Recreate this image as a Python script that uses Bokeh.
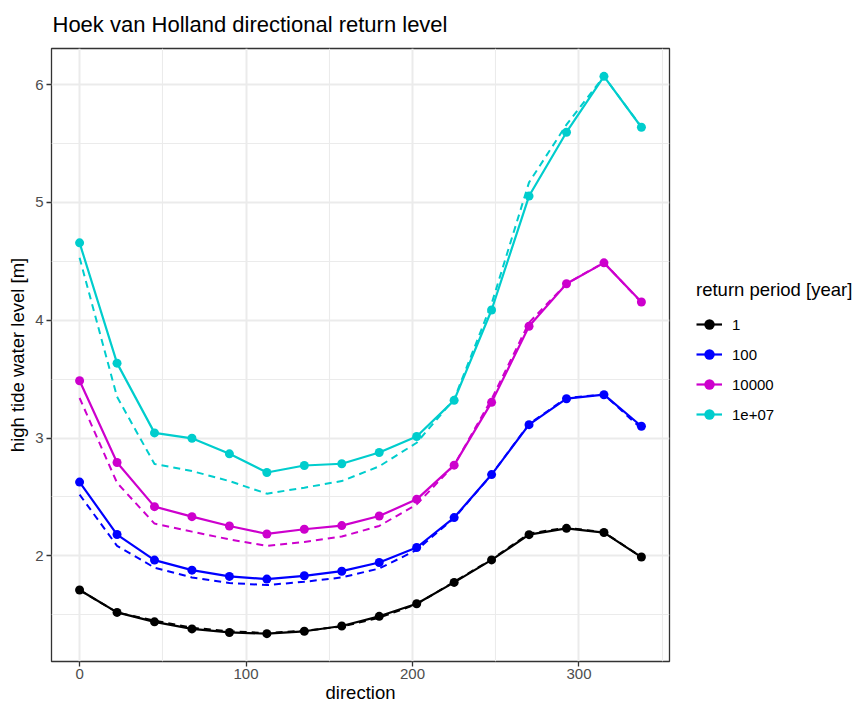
from bokeh.plotting import figure
from bokeh.layouts import row
from bokeh.models import Range1d, FixedTicker, Legend, LegendItem, Title
from bokeh.embed import file_html
from bokeh.resources import INLINE

# ---- data ----
direction = [0, 22.5, 45, 67.5, 90, 112.5, 135, 157.5, 180, 202.5, 225, 247.5, 270, 292.5, 315, 337.5]
period_labels = ["1", "100", "10000", "1e+07"]
colors = ["#000000", "#0000FF", "#CD00CD", "#00CDCD"]

level_1 = [1.71, 1.52, 1.44, 1.38, 1.35, 1.34, 1.36, 1.405, 1.487, 1.594, 1.775, 1.966, 2.18, 2.234, 2.198, 1.99]
level_1_dashed = [1.71, 1.52, 1.45, 1.39, 1.36, 1.345, 1.365, 1.40, 1.475, 1.59, 1.78, 1.97, 2.19, 2.24, 2.20, 1.99]

level_100 = [2.626, 2.181, 1.964, 1.879, 1.826, 1.803, 1.831, 1.870, 1.944, 2.071, 2.325, 2.69, 3.114, 3.334, 3.368, 3.10]
level_100_dashed = [2.52, 2.085, 1.90, 1.817, 1.77, 1.752, 1.78, 1.817, 1.893, 2.05, 2.32, 2.69, 3.12, 3.34, 3.37, 3.08]

level_10000 = [3.486, 2.793, 2.418, 2.333, 2.254, 2.186, 2.226, 2.257, 2.338, 2.48, 2.77, 3.303, 3.949, 4.31, 4.487, 4.155]
level_10000_dashed = [3.34, 2.62, 2.274, 2.206, 2.14, 2.085, 2.118, 2.164, 2.254, 2.437, 2.77, 3.33, 3.98, 4.31, 4.49, 4.15]

level_1e7 = [4.657, 3.636, 3.044, 2.998, 2.866, 2.708, 2.767, 2.782, 2.877, 3.013, 3.32, 4.087, 5.054, 5.596, 6.07, 5.638]
level_1e7_dashed = [4.53, 3.35, 2.78, 2.72, 2.635, 2.528, 2.579, 2.635, 2.76, 2.96, 3.33, 4.14, 5.17, 5.66, 6.07, 5.64]

solid_series = [level_1, level_100, level_10000, level_1e7]
dashed_series = [level_1_dashed, level_100_dashed, level_10000_dashed, level_1e7_dashed]

x_ticks = [0, 100, 200, 300]
x_minor = [50, 150, 250, 350]
y_ticks = [2, 3, 4, 5, 6]
y_minor = [1.5, 2.5, 3.5, 4.5, 5.5]
title_text = "Hoek van Holland directional return level"

# ---- ranges with 5% expansion ----
xmin, xmax = min(direction), max(direction)
xpad = 0.05 * (xmax - xmin)
allv = [v for s in solid_series + dashed_series for v in s]
ymin, ymax = min(allv), max(allv)
ypad = 0.05 * (ymax - ymin)

FONT = "Liberation Sans"
TOTAL_H = 706
MAIN_W = 674
LEG_W = 858 - MAIN_W

p = figure(
    width=MAIN_W, height=TOTAL_H,
    x_range=Range1d(xmin - xpad, xmax + xpad),
    y_range=Range1d(ymin - ypad, ymax + ypad),
    output_backend="svg", toolbar_location=None,
    title=None,
    min_border_left=51, min_border_right=5, min_border_top=48, min_border_bottom=45,
    background_fill_color="white", border_fill_color="white",
)

# small blank spacer between the frame and the title, then the title itself
spacer = Title(text=" ", text_font_size="5px", standoff=0, text_font=FONT)
main_title = Title(text=title_text, text_font=FONT, text_font_size="22px",
                   text_font_style="normal", text_color="#000000", offset=1, standoff=8)
p.add_layout(spacer, "above")
p.add_layout(main_title, "above")

p.outline_line_color = "#333333"
p.outline_line_width = 1.3

for ax in (p.xaxis[0], p.yaxis[0]):
    ax.axis_line_color = None
    ax.major_tick_line_color = "#333333"
    ax.major_tick_line_width = 1.3
    ax.major_tick_out = 5
    ax.major_tick_in = 0
    ax.minor_tick_line_color = None
    ax.major_label_text_font = FONT
    ax.major_label_text_font_size = "15px"
    ax.major_label_text_color = "#4D4D4D"
    ax.axis_label_text_font = FONT
    ax.axis_label_text_font_size = "18.5px"
    ax.axis_label_text_font_style = "normal"
    ax.axis_label_text_color = "#000000"

p.xaxis[0].ticker = FixedTicker(ticks=x_ticks, minor_ticks=x_minor)
p.yaxis[0].ticker = FixedTicker(ticks=y_ticks, minor_ticks=y_minor)
p.xaxis[0].axis_label = "direction"
p.yaxis[0].axis_label = "high tide water level [m]"
p.xaxis[0].major_label_standoff = 2
p.xaxis[0].axis_label_standoff = 0
p.yaxis[0].major_label_standoff = 3
p.yaxis[0].axis_label_standoff = 4

for g in (p.xgrid[0], p.ygrid[0]):
    g.grid_line_color = "#EBEBEB"
    g.grid_line_width = 2
    g.minor_grid_line_color = "#EBEBEB"
    g.minor_grid_line_width = 1.1
p.xgrid[0].ticker = p.xaxis[0].ticker
p.ygrid[0].ticker = p.yaxis[0].ticker

for col, sol, das in zip(colors, solid_series, dashed_series):
    p.line(direction, das, line_color=col, line_width=2, line_dash="7 5")
    p.line(direction, sol, line_color=col, line_width=2.2)
    p.scatter(direction, sol, size=9, fill_color=col, line_color=col, line_width=0)

# ---- legend panel: a plain figure to the right that holds only the legend ----
lf = figure(
    width=LEG_W, height=TOTAL_H,
    x_range=Range1d(0, 1), y_range=Range1d(0, 1),
    x_axis_type=None, y_axis_type=None,
    output_backend="svg", toolbar_location=None,
    min_border=0, outline_line_color=None,
    background_fill_color="white", border_fill_color="white",
)
lf.grid.visible = False

items = []
for lab, col in zip(period_labels, colors):
    # key glyphs placed outside the visible range, shown only in the legend
    lr = lf.line([5, 6], [5, 6], line_color=col, line_width=2.2)
    sr = lf.scatter([5], [5], size=9, fill_color=col, line_color=col, line_width=0)
    items.append(LegendItem(label=lab, renderers=[lr, sr]))

legend = Legend(
    items=items, location=(22, 234),
    title="return period [year]",
    title_text_font=FONT, title_text_font_size="18.5px", title_text_color="#000000",
    title_text_font_style="normal",
    title_standoff=10,
    label_text_font=FONT, label_text_font_size="15px", label_text_color="#000000",
    glyph_width=26, glyph_height=26, label_height=26, label_standoff=10, spacing=4,
    padding=0, margin=0,
    background_fill_alpha=0, border_line_color=None,
)
lf.add_layout(legend)

layout = row(p, lf)
open("out.html", "w").write(file_html(layout, INLINE))
